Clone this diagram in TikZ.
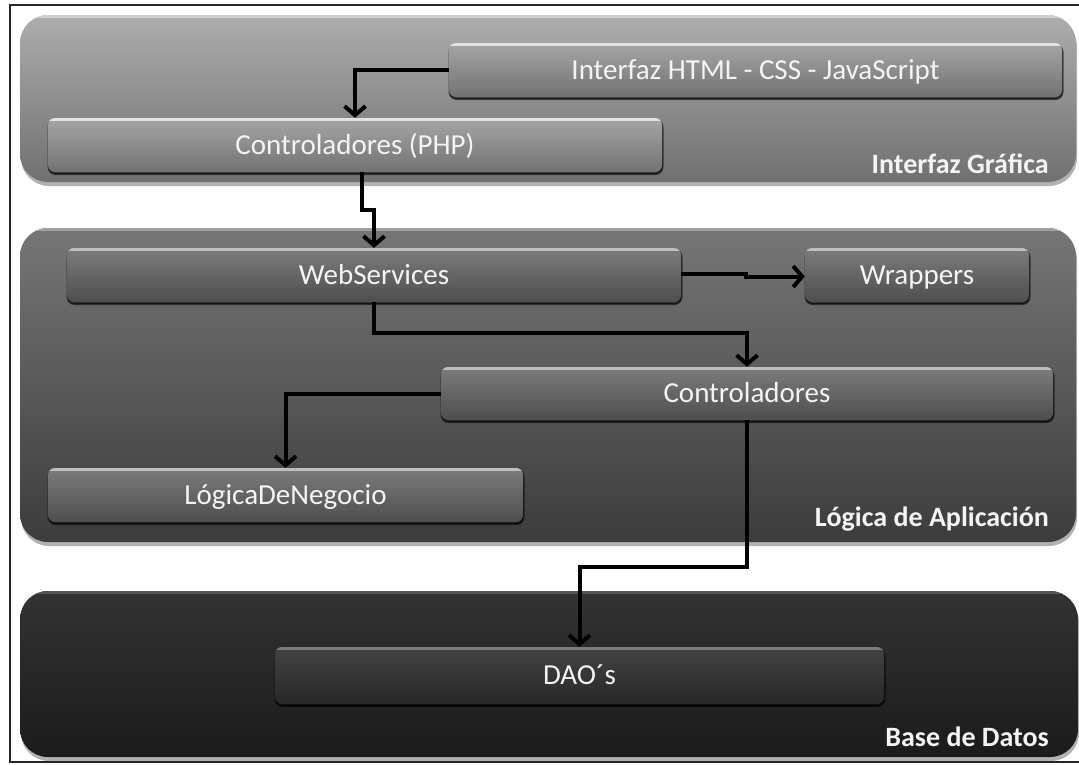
\documentclass[tikz,border=0pt]{standalone}
\usepackage{fontspec}
\setmainfont{Carlito}
\usetikzlibrary{arrows.meta,shadows}

\definecolor{p1top}{HTML}{ADADAD}
\definecolor{p1bot}{HTML}{707070}
\definecolor{p1hl}{HTML}{CFCFCF}
\definecolor{bAtop}{HTML}{A6A6A6}
\definecolor{bAbot}{HTML}{727272}
\definecolor{bAhl}{HTML}{E2E2E2}
\definecolor{p2top}{HTML}{767676}
\definecolor{p2bot}{HTML}{3C3C3C}
\definecolor{p2hl}{HTML}{A0A0A0}
\definecolor{bBtop}{HTML}{7C7C7C}
\definecolor{bBbot}{HTML}{4E4E4E}
\definecolor{bBhl}{HTML}{BEBEBE}
\definecolor{p3top}{HTML}{333333}
\definecolor{p3bot}{HTML}{1B1B1B}
\definecolor{p3hl}{HTML}{555555}
\definecolor{bCtop}{HTML}{444444}
\definecolor{bCbot}{HTML}{272727}
\definecolor{bChl}{HTML}{7A7A7A}
\definecolor{txt}{HTML}{F4F4F4}

\tikzset{
  toplight/.style={path picture={
    \draw[#1, line width=2.5pt]
      ([yshift=-1.6pt]path picture bounding box.north west) --
      ([yshift=-1.6pt]path picture bounding box.north east);}},
  panelbase/.style={rounded corners=28pt, inner sep=0pt, draw=none,
    preaction={fill=black, opacity=0.3, transform canvas={xshift=1pt, yshift=-4pt}}},
  panelA/.style={panelbase, top color=p1top, bottom color=p1bot, toplight=p1hl},
  panelB/.style={panelbase, top color=p2top, bottom color=p2bot, toplight=p2hl},
  panelC/.style={panelbase, top color=p3top, bottom color=p3bot, toplight=p3hl},
  boxbase/.style={rounded corners=7pt, inner sep=0pt, draw=none, minimum height=54pt,
    text=txt, font=\fontsize{29}{30}\selectfont, text height=18.5pt, text depth=0pt,
    preaction={fill=black, draw=black, line width=2pt, opacity=0.55,
      transform canvas={xshift=0.5pt, yshift=-2pt}}},
  boxA/.style={boxbase, top color=bAtop, bottom color=bAbot, toplight=bAhl},
  boxB/.style={boxbase, top color=bBtop, bottom color=bBbot, toplight=bBhl},
  boxC/.style={boxbase, top color=bCtop, bottom color=bCbot, toplight=bChl},
  layerlabel/.style={anchor=base east, inner sep=0pt, text=txt,
    font=\fontsize{28}{30}\selectfont\bfseries},
  arr/.style={line width=4pt, draw=black, -{Straight Barb[length=9pt,width=21pt]}},
}

\begin{document}
\begin{tikzpicture}[x=1pt,y=-1pt]
\useasboundingbox (0,0) rectangle (1079,764);
\clip (0,0) rectangle (1079,764);
\fill[white] (0,0) rectangle (1079,764);
\draw[line width=1.2pt, black!85] (10,5) rectangle (1095,762);

% layers
\node[panelA, minimum width=1056pt, minimum height=167pt] (p1) at (548,98.5) {};
\node[panelB, minimum width=1056pt, minimum height=314pt] (p2) at (548,385) {};
\node[panelC, minimum width=1058pt, minimum height=166pt] (p3) at (549,674) {};

\node[layerlabel] (l1) at (1049,173) {Interfaz Gráfica};
\node[layerlabel] (l2) at (1049,526) {Lógica de Aplicación};
\node[layerlabel] (l3) at (1049,746) {Base de Datos};

% boxes
\node[boxA, minimum width=613pt] (html) at (755.5,70) {Interfaz HTML - CSS - JavaScript};
\node[boxA, minimum width=614pt] (php) at (355,145) {Controladores (PHP)};
\node[boxB, minimum width=614pt] (ws) at (374,275) {WebServices};
\node[boxB, minimum width=224pt] (wr) at (917,275) {Wrappers};
\node[boxB, minimum width=612pt, minimum height=53pt] (ctl) at (747,393.5) {Controladores};
\node[boxB, minimum width=475pt] (lng) at (285.5,495) {LógicaDeNegocio};
\node[boxC, minimum width=609pt, minimum height=57pt] (dao) at (579.5,675.5) {DAO´s};

% connectors
\draw[arr] (html.west) -| (php.north);
\draw[arr] ([xshift=7pt]php.south) -- ++(0,38) -| (ws.north);
\draw[arr] ([yshift=1.5pt]ws.east) -- ++(65,0) |- ([yshift=-1.5pt]wr.west);
\draw[arr] (ws.south) -- ++(0,31) -| (ctl.north);
\draw[arr] (ctl.west) -| (lng.north);
\draw[arr] (ctl.south) -- ++(0,147) -| (dao.north);
\end{tikzpicture}
\end{document}
